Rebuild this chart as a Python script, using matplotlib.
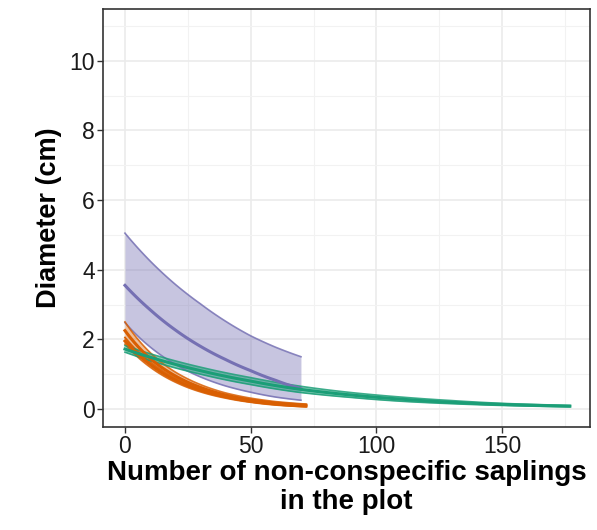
import numpy as np
import matplotlib.pyplot as plt
from matplotlib.ticker import MultipleLocator

plt.rcParams['font.family'] = ['Liberation Sans', 'DejaVu Sans']

# purple group
x_pur = [0, 10, 20, 30, 40, 50, 60, 70]
pur_mean = [3.55, 2.85, 2.27, 1.8, 1.42, 1.1, 0.82, 0.58]
pur_lo = [2.48, 1.78, 1.28, 0.92, 0.66, 0.48, 0.34, 0.25]
pur_hi = [5.05, 4.25, 3.58, 3.02, 2.52, 2.1, 1.77, 1.5]

# orange groups
x_ora = [0, 10, 20, 30, 40, 50, 60, 72]
ora1_mean = [2.25, 1.45, 0.95, 0.62, 0.4, 0.26, 0.17, 0.11]
ora1_lo = [2.05, 1.3, 0.84, 0.54, 0.34, 0.21, 0.13, 0.08]
ora1_hi = [2.5, 1.62, 1.06, 0.7, 0.46, 0.31, 0.21, 0.14]
ora2_mean = [1.95, 1.28, 0.83, 0.54, 0.35, 0.22, 0.14, 0.08]
ora2_lo = [1.86, 1.2, 0.77, 0.49, 0.31, 0.19, 0.11, 0.06]
ora2_hi = [2.05, 1.36, 0.89, 0.59, 0.39, 0.25, 0.16, 0.1]

# green group
x_gre = [0, 15, 30, 50, 70, 90, 110, 130, 150, 177]
gre_mean = [1.72, 1.38, 1.1, 0.8, 0.56, 0.4, 0.28, 0.19, 0.13, 0.08]
gre_lo = [1.63, 1.28, 1.0, 0.7, 0.47, 0.33, 0.22, 0.15, 0.1, 0.06]
gre_hi = [1.82, 1.48, 1.2, 0.9, 0.65, 0.47, 0.34, 0.24, 0.16, 0.1]

purple = '#7570b3'
orange = '#d95f02'
green = '#1b9e77'

fig = plt.figure(figsize=(5.97, 5.30), dpi=100)
ax = fig.add_axes([0.1725, 0.1943, 0.9883 - 0.1725, 0.983 - 0.1943])


def smooth(x, y, n=80):
    # resample in log space so the curves look smooth
    xs = np.linspace(x[0], x[-1], n)
    ys = np.exp(np.interp(xs, x, np.log(y)))
    return xs, ys


def band(x, lo, hi, mean, col, fill_alpha):
    xs, l = smooth(x, lo)
    _, h = smooth(x, hi)
    _, m = smooth(x, mean)
    ax.fill_between(xs, l, h, color=col, alpha=fill_alpha, lw=0, zorder=2)
    ax.plot(xs, l, color=col, lw=1.2, alpha=0.85, zorder=3)
    ax.plot(xs, h, color=col, lw=1.2, alpha=0.85, zorder=3)
    ax.plot(xs, m, color=col, lw=2.2, zorder=4)


band(x_pur, pur_lo, pur_hi, pur_mean, purple, 0.4)
band(x_ora, ora1_lo, ora1_hi, ora1_mean, orange, 0.4)
band(x_ora, ora2_lo, ora2_hi, ora2_mean, orange, 0.5)
band(x_gre, gre_lo, gre_hi, gre_mean, green, 0.5)

ax.set_xlim(-8.75, 185)
ax.set_ylim(-0.52, 11.49)
ax.xaxis.set_major_locator(MultipleLocator(50))
ax.xaxis.set_minor_locator(MultipleLocator(25))
ax.yaxis.set_major_locator(MultipleLocator(2))
ax.yaxis.set_minor_locator(MultipleLocator(1))
ax.grid(which='major', color='#ebebeb', lw=1.2, zorder=0)
ax.grid(which='minor', color='#f2f2f2', lw=0.8, zorder=0)
ax.set_axisbelow(True)
ax.tick_params(which='minor', length=0)
ax.tick_params(which='major', length=4.5, width=1, color='#333333',
               labelsize=16.5, labelcolor='#1a1a1a', pad=1.5)
for s in ax.spines.values():
    s.set_color('#333333')
    s.set_linewidth(1.2)

ax.set_xlabel('Number of non-conspecific saplings\nin the plot',
              fontsize=20, fontweight='bold', linespacing=1.15, labelpad=1)
ax.set_ylabel('Diameter (cm)', fontsize=19.5, fontweight='bold', labelpad=5)

fig.savefig('out.png', dpi=100)
